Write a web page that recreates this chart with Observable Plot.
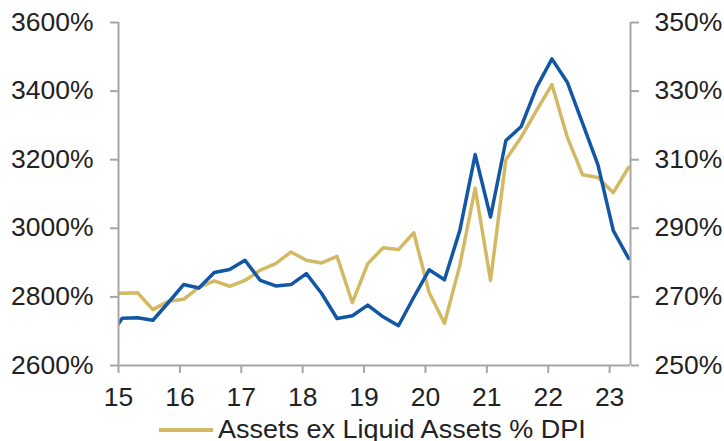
<!DOCTYPE html>
<html><head><meta charset="utf-8">
<script src="https://cdn.jsdelivr.net/npm/d3@7"></script>
<script src="https://cdn.jsdelivr.net/npm/@observablehq/plot@0.6"></script>
<style>
body{margin:0;background:#fff;font-family:"Liberation Sans",Arial,sans-serif;}
#chart{position:relative;width:724px;height:441px;overflow:hidden;background:#fff;}
#legend{position:absolute;left:159px;top:415px;display:flex;align-items:center;font-size:25px;color:#222;line-height:29px;white-space:nowrap;}
#legend .sw{width:54px;height:4px;background:#d3b964;margin-right:5px;}
#legend .lt{display:inline-block;transform:scaleX(1.08);transform-origin:0 50%;}
</style></head><body>
<div id="chart"></div>
<script>
// quarterly observations
const quarters = ["2014Q4",
  "2015Q1","2015Q2","2015Q3","2015Q4","2016Q1","2016Q2","2016Q3","2016Q4",
  "2017Q1","2017Q2","2017Q3","2017Q4","2018Q1","2018Q2","2018Q3","2018Q4",
  "2019Q1","2019Q2","2019Q3","2019Q4","2020Q1","2020Q2","2020Q3","2020Q4",
  "2021Q1","2021Q2","2021Q3","2021Q4","2022Q1","2022Q2","2022Q3","2022Q4",
  "2023Q1","2023Q2"];
// blue series, left axis (%)
const blueSeries = [2671, 2738, 2739, 2732, 2783, 2836, 2826, 2871, 2880, 2907, 2848, 2832, 2836, 2868, 2810, 2737, 2745, 2776, 2742, 2716, 2799, 2879, 2850, 2994, 3215, 3033, 3256, 3297, 3411, 3494, 3426, 3306, 3185, 2993, 2912];
// Assets ex Liquid Assets % DPI, right axis (%)
const goldSeries = [271.1, 271.1, 271.2, 266.3, 268.7, 269.3, 272.8, 274.7, 273.1, 274.8, 277.8, 279.7, 283.1, 280.7, 279.9, 281.8, 268.3, 279.7, 284.3, 283.8, 288.7, 271.3, 262.3, 279.2, 301.7, 274.8, 310.0, 316.6, 324.4, 331.9, 316.6, 305.6, 304.8, 300.4, 307.8];
const xTicks = [15, 16, 17, 18, 19, 20, 21, 22, 23];
const leftTicks = [2600, 2800, 3000, 3200, 3400, 3600];
const rightTicks = [250, 270, 290, 310, 330, 350];
const legendLabel = "Assets ex Liquid Assets % DPI";

const BLUE = "#1257a6", GOLD = "#d3b964", AXIS = "#a6a6a6", TEXT = "#222";
const xDomain = [15, 23.34];
const leftDomain = [2600, 3600], rightDomain = [250, 350];
const toLeft = v => leftDomain[0] + (v - rightDomain[0]) * (leftDomain[1]-leftDomain[0])/(rightDomain[1]-rightDomain[0]);
const qx = s => (+s.slice(0,4) - 2000) + (+s.slice(5) - 1) * 0.25 + 0.06;

const blue = quarters.map((q,i) => ({x: qx(q), y: blueSeries[i]}));
const gold = quarters.map((q,i) => ({x: qx(q), y: toLeft(goldSeries[i])}));

const chart = Plot.plot({
  width: 724, height: 410,
  marginTop: 22, marginBottom: 45, marginLeft: 118, marginRight: 94,
  x: {domain: xDomain},
  y: {domain: leftDomain},
  style: {fontSize: "25px", fontFamily: '"Liberation Sans", Arial, sans-serif', color: TEXT, background: "white"},
  marks: [
    Plot.line(gold, {x: "x", y: "y", stroke: GOLD, strokeWidth: 3.5, clip: true}),
    Plot.line(blue, {x: "x", y: "y", stroke: BLUE, strokeWidth: 3.5, clip: true}),
    Plot.ruleX([xDomain[0]], {stroke: AXIS, strokeWidth: 2}),
    Plot.ruleX([xDomain[1]], {stroke: AXIS, strokeWidth: 2}),
    Plot.ruleY([leftDomain[0]], {stroke: AXIS, strokeWidth: 2}),
    Plot.axisX({ticks: xTicks, tickFormat: d => String(d), tickSize: 8, tickPadding: 15, stroke: AXIS, strokeWidth: 2, fill: TEXT, label: null}),
    Plot.axisY({anchor: "left", ticks: leftTicks, tickFormat: d => d + "%", tickSize: 8, tickPadding: 17, stroke: AXIS, strokeWidth: 2, fill: TEXT, label: null}),
    Plot.axisY({anchor: "right", ticks: rightTicks.map(toLeft), tickFormat: (d, i) => rightTicks[i] + "%", tickSize: 8, tickPadding: 16, stroke: AXIS, strokeWidth: 2, fill: TEXT, label: null})
  ]
});
// the reference's type is slightly wider than Liberation Sans: stretch tick labels horizontally about their anchor
chart.querySelectorAll("text").forEach(t => {
  const x = parseFloat(t.getAttribute("x")) || 0;
  const tr = t.getAttribute("transform") || "";
  t.setAttribute("transform", `${tr} translate(${x},0) scale(1.06,1) translate(${-x},0)`);
});
const root = document.getElementById("chart");
root.appendChild(chart);
const lg = document.createElement("div");
lg.id = "legend";
lg.innerHTML = '<span class="sw"></span><span class="lt"></span>';
lg.lastChild.textContent = legendLabel;
root.appendChild(lg);
</script>
</body></html>
